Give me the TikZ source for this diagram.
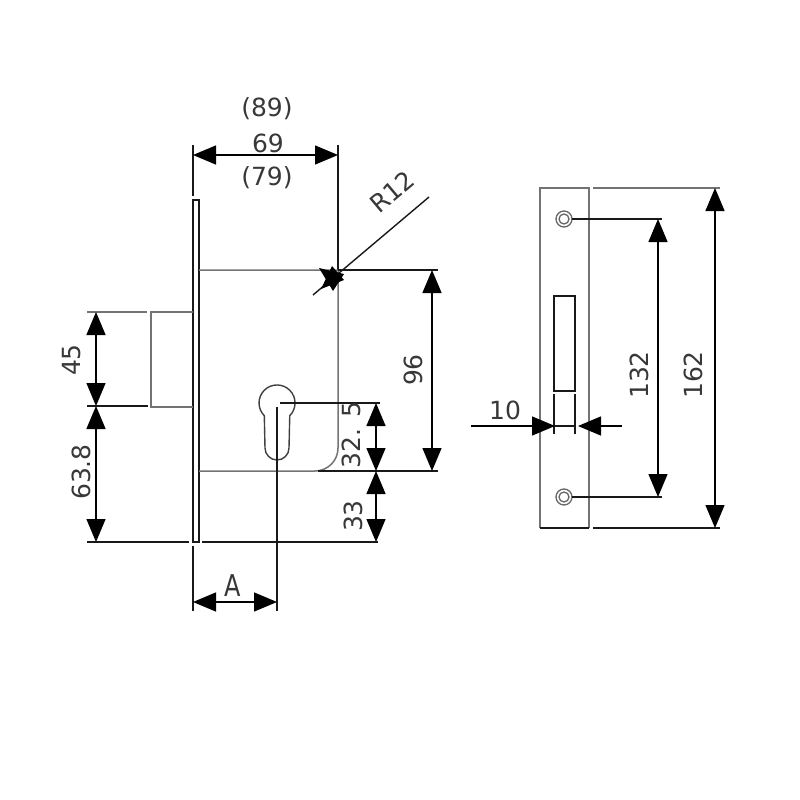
\documentclass[tikz,border=0pt]{standalone}
\usepackage{fontspec}
\setmainfont{DejaVu Sans}
\usetikzlibrary{arrows.meta}
\definecolor{soft}{gray}{0.45}
\tikzset{
  thinline/.style={line width=1.4pt,black!90},
  softline/.style={line width=1.5pt,soft},
  dim/.style={line width=1.4pt,black,{Triangle[length=23pt,width=19pt]}-{Triangle[length=23pt,width=19pt]}},
  halfdim/.style={line width=1.4pt,black,-{Triangle[length=23pt,width=19pt]}},
  lbl/.style={inner sep=0pt,font=\fontsize{25}{25}\selectfont,text=black!78},
}
\begin{document}
\begin{tikzpicture}[x=1pt,y=-1pt]
\useasboundingbox (0,0) rectangle (800,800);
% left view
\draw[thinline] (193,200) rectangle (199,542);
\draw[thinline] (193,145) -- (193,196);
\draw[thinline] (338,145) -- (338,270);
\draw[softline] (199,270) -- (338,270) -- (338,448) arc[start angle=0,end angle=90,radius=23] -- (199,471);
\draw[thinline] (338,270) -- (438,270);
\draw[thinline] (318,471) -- (438,471);
% bolt
\draw[softline] (193,312) -- (151,312) -- (151,407) -- (193,407);
\draw[softline] (87,312) -- (147,312);
\draw[thinline] (87,406) -- (148,406);
\draw[thinline] (87,542) -- (189,542);
\draw[thinline] (202,542) -- (378,542);
\draw[thinline] (193,546) -- (193,611);
% keyhole
\draw[line width=1.4pt,black!75] (264.3,415.7) arc[start angle=135,end angle=405,radius=18] -- (289,448) arc[start angle=0,end angle=180,radius=12] -- cycle;
\draw[thinline] (277,407) -- (277,611);
\draw[thinline] (280,403) -- (380,403);
% dimensions, left view
\draw[dim] (193,155) -- (338,155);
\draw[dim] (432,270) -- (432,471);
\draw[dim] (96,312) -- (96,406);
\draw[dim] (96,406) -- (96,542);
\draw[dim] (376,403) -- (376,471);
\draw[dim] (376,471) -- (376,542);
\draw[dim] (193,602) -- (277,602);
% R12 leader
\draw[thinline] (429,197) -- (313,295);
\fill (332,266) -- (344,280) -- (321,289) -- cycle;
\fill (319,268) -- (344,274) -- (333,291) -- cycle;
% right view
\draw[softline] (540,528) -- (540,188) -- (589,188) -- (589,528);
\draw[thinline] (540,528) -- (589,528);
\draw[softline] (593,188) -- (720,188);
\draw[thinline] (593,528) -- (720,528);
\draw[line width=1.3pt,black!60] (564,219) circle[radius=8];
\draw[line width=1.3pt,black!60] (564,219) circle[radius=5];
\draw[line width=1.3pt,black!60] (564,497) circle[radius=8];
\draw[line width=1.3pt,black!60] (564,497) circle[radius=5];
\draw[thinline] (572,219) -- (662,219);
\draw[thinline] (572,497) -- (662,497);
\draw[thinline] (554,391) -- (554,296) -- (575,296) -- (575,391) -- cycle;
\draw[thinline] (554,394) -- (554,434);
\draw[thinline] (575,394) -- (575,434);
\draw[thinline] (554,426) -- (575,426);
\draw[dim] (658,219) -- (658,497);
\draw[dim] (715,188) -- (715,528);
\draw[halfdim] (471,426) -- (555,426);
\draw[halfdim] (622,426) -- (578,426);
% labels
\node[lbl] (t89) at (267,109) {(89)};
\node[lbl] (t69) at (268,143) {69};
\node[lbl] (t79) at (267,178) {(79)};
\node[lbl,rotate=40] (tR) at (392,192) {R12};
\node[lbl,rotate=90] (t45) at (72,360) {45};
\node[lbl,rotate=90] (t638) at (81,472) {63.8};
\node[lbl,rotate=90] (t96) at (413,370) {96};
\node[lbl,rotate=90] (t325) at (351,435) {32. 5};
\node[lbl,rotate=90] (t33) at (353,516) {33};
\node[lbl,xscale=.8,font=\fontsize{30}{30}\selectfont] (tA) at (233,586) {A};
\node[lbl] (t10) at (505,410) {10};
\node[lbl,rotate=90] (t132) at (639,375) {132};
\node[lbl,rotate=90] (t162) at (693,375) {162};
\end{tikzpicture}
\end{document}
